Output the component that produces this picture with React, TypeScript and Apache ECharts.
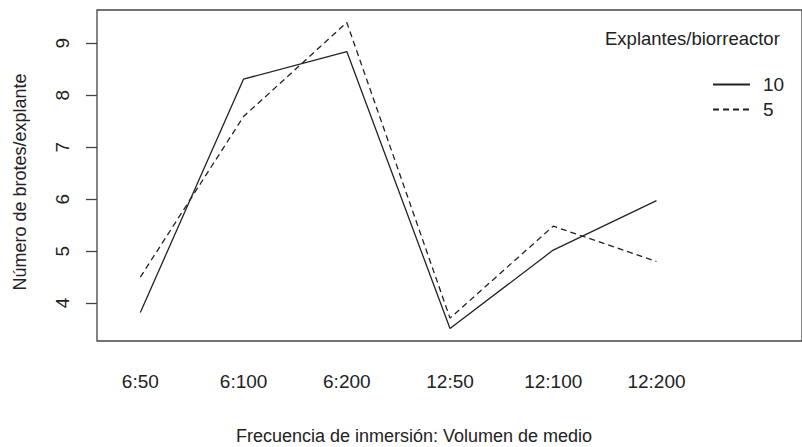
import React, { useEffect, useRef } from "react";
import * as echarts from "echarts";

const categories = ["6:50", "6:100", "6:200", "12:50", "12:100", "12:200"];
const seriesNames = ["10", "5"];
const values10 = [3.82, 8.31, 8.84, 3.51, 5.02, 5.97];
const values5 = [4.5, 7.59, 9.4, 3.71, 5.48, 4.8];
const yTicks = [4, 5, 6, 7, 8, 9];
const xTitle = "Frecuencia de inmersión: Volumen de medio";
const yTitle = "Número de brotes/explante";
const legendTitle = "Explantes/biorreactor";

const FONT = "'Liberation Sans', Arial, sans-serif";
const INK = "#222";

export default function App() {
  const ref = useRef<HTMLDivElement>(null);
  useEffect(() => {
    document.body.style.margin = "0";
    const chart = echarts.init(ref.current!, undefined, { renderer: "svg" });
    const xPositions = categories.map((_, i) => i + 1);
    const toData = (vals: number[]) => vals.map((v, i) => [xPositions[i], v]);
    chart.setOption({
      animation: false,
      backgroundColor: "#fff",
      textStyle: { fontFamily: FONT },
      grid: {
        left: 97,
        right: -8,
        top: 10,
        bottom: 106,
        show: true,
        borderColor: "#444",
        borderWidth: 1.3,
        backgroundColor: "transparent",
      },
      xAxis: {
        type: "value",
        min: 0.58,
        max: 7.41,
        axisLine: { show: false },
        axisTick: { show: false },
        splitLine: { show: false },
        axisLabel: {
          customValues: xPositions,
          formatter: (v: number) => categories[Math.round(v) - 1] ?? "",
          color: INK,
          fontSize: 19,
          fontFamily: FONT,
          margin: 31,
        },
      },
      yAxis: {
        type: "value",
        min: 3.27,
        max: 9.64,
        axisLine: { show: false },
        splitLine: { show: false },
        axisTick: {
          customValues: yTicks,
          length: 11,
          lineStyle: { color: "#444", width: 1.3 },
        },
        axisLabel: {
          customValues: yTicks,
          rotate: 90,
          color: INK,
          fontSize: 19,
          fontFamily: FONT,
          margin: 25,
        },
      },
      legend: {
        orient: "vertical",
        left: 707,
        top: 70,
        itemWidth: 37,
        itemHeight: 14,
        itemGap: 6,
        itemStyle: { color: "transparent", borderColor: "transparent", borderWidth: 0 },
        textStyle: { color: INK, fontSize: 19, fontFamily: FONT, padding: [0, 0, 0, 8], lineHeight: 19 },
        data: seriesNames,
      },
      graphic: [
        {
          type: "text",
          x: 605,
          y: 38,
          style: { text: legendTitle, fill: INK, font: `18.5px ${FONT}`, textVerticalAlign: "middle" },
        },
        {
          type: "text",
          x: 414,
          y: 436,
          style: { text: xTitle, fill: INK, font: `18px ${FONT}`, textAlign: "center", textVerticalAlign: "middle" },
        },
        {
          type: "text",
          x: 20,
          y: 182,
          rotation: Math.PI / 2,
          style: { text: yTitle, fill: INK, font: `18px ${FONT}`, textAlign: "center", textVerticalAlign: "middle" },
        },
      ],
      series: [
        {
          name: seriesNames[0],
          type: "line",
          data: toData(values10),
          symbol: "none",
          lineStyle: { color: INK, width: 1.3, type: "solid" },
          itemStyle: { color: INK },
        },
        {
          name: seriesNames[1],
          type: "line",
          data: toData(values5),
          symbol: "none",
          lineStyle: { color: INK, width: 1.3, type: [6, 4] },
          itemStyle: { color: INK },
        },
      ],
    });
    return () => chart.dispose();
  }, []);
  return <div ref={ref} style={{ width: 802, height: 447, position: "fixed", left: 0, top: 0 }} />;
}
